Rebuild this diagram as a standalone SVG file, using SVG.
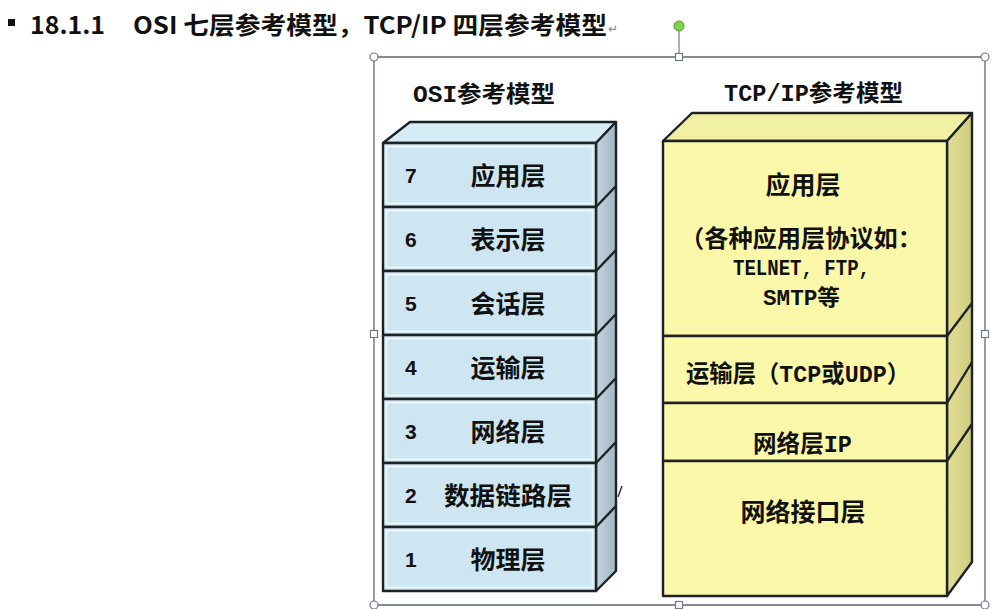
<svg xmlns="http://www.w3.org/2000/svg" width="993" height="609" viewBox="0 0 993 609">
<defs>
<linearGradient id="sideBlue" x1="0" y1="0" x2="1" y2="0">
<stop offset="0" stop-color="#c3d5df"/><stop offset="1" stop-color="#a3b6c1"/>
</linearGradient>
<linearGradient id="sideYellow" x1="0" y1="0" x2="1" y2="0">
<stop offset="0" stop-color="#e2df95"/><stop offset="1" stop-color="#cfcc7f"/>
</linearGradient>
<style>
.edge{stroke:#1c2226;stroke-width:2.4;stroke-linejoin:round}
.osi{fill:#cde6f2}
.osiIn{fill:none;stroke:#eef8fc;stroke-width:1.6}
.tcp{fill:#fbf8a9}
.cn{font-family:"Noto Sans CJK SC","Noto Sans CJK TC",sans-serif;font-weight:bold;fill:#111}
.mono{font-family:"Liberation Mono","Noto Sans CJK SC",monospace;font-weight:bold;fill:#111}
.num{font-family:"Liberation Sans",sans-serif;font-weight:bold;font-size:21px;fill:#111}
.lbl{font-size:25px;text-anchor:middle}
.frame{stroke:#5c6670;stroke-width:1.3;fill:none}
.hdl{fill:#ffffff;stroke:#6f7a86;stroke-width:1.2}
</style>
</defs>
<rect width="993" height="609" fill="#ffffff"/>

<g id="header">
<rect x="8" y="19" width="7" height="7" fill="#111"/>
<text x="30" y="34" class="cn" font-size="24" textLength="75" lengthAdjust="spacingAndGlyphs">18.1.1</text>
<text x="133" y="34" class="cn" font-size="24" textLength="474" lengthAdjust="spacingAndGlyphs">OSI 七层参考模型，TCP/IP 四层参考模型</text>
<text x="608" y="33" font-family="Liberation Sans,sans-serif" font-size="12" fill="#888">↵</text>
</g>

<g id="frame">
<line class="frame" x1="374" y1="57" x2="985" y2="57"/>
<line class="frame" x1="374" y1="57" x2="374" y2="605"/>
<line class="frame" x1="985" y1="57" x2="985" y2="605"/>
<line class="frame" x1="374" y1="605" x2="985" y2="605"/>
<line x1="679" y1="31" x2="679" y2="54" stroke="#7b8590" stroke-width="1.3"/>
<circle cx="679" cy="26" r="5" fill="#7fd24c" stroke="#5a9a3a" stroke-width="1"/>
<circle class="hdl" cx="374" cy="57" r="4"/>
<circle class="hdl" cx="985" cy="57" r="4"/>
<circle class="hdl" cx="374" cy="605" r="4"/>
<circle class="hdl" cx="985" cy="605" r="4"/>
<rect class="hdl" x="675.5" y="53.5" width="7" height="7"/>
<rect class="hdl" x="370.5" y="330.5" width="7" height="7"/>
<rect class="hdl" x="981.5" y="330.5" width="7" height="7"/>
<rect class="hdl" x="675.5" y="601.5" width="7" height="7"/>
</g>

<g id="osi-title"><text x="413" y="102" class="mono" font-size="23" textLength="142" lengthAdjust="spacingAndGlyphs">OSI参考模型</text></g>
<g id="tcpip-title"><text x="724" y="101" class="mono" font-size="23" textLength="179" lengthAdjust="spacingAndGlyphs">TCP/IP参考模型</text></g>

<g id="osi-stack">
<polygon class="edge" fill="#d6ecf6" points="383,143 410,122 616,122 596,143"/>
<polygon class="edge" fill="url(#sideBlue)" points="596,143 616,122 616,571 596,591"/>
<g fill="none" class="edge">
<line x1="596" y1="207" x2="616" y2="186"/>
<line x1="596" y1="271" x2="616" y2="250"/>
<line x1="596" y1="335" x2="616" y2="314"/>
<line x1="596" y1="399" x2="616" y2="378"/>
<line x1="596" y1="463" x2="616" y2="442"/>
<line x1="596" y1="527" x2="616" y2="506"/>
</g>
<line x1="618" y1="497" x2="622" y2="486" stroke="#333" stroke-width="1.5"/>
</g>

<g id="osi-7"><rect class="osi edge" x="383" y="143" width="213" height="64"/><rect class="osiIn" x="386.5" y="146.5" width="206" height="57"/><text class="num" x="405" y="183">7</text><text class="cn lbl" x="508" y="185">应用层</text></g>
<g id="osi-6"><rect class="osi edge" x="383" y="207" width="213" height="64"/><rect class="osiIn" x="386.5" y="210.5" width="206" height="57"/><text class="num" x="405" y="247">6</text><text class="cn lbl" x="508" y="249">表示层</text></g>
<g id="osi-5"><rect class="osi edge" x="383" y="271" width="213" height="64"/><rect class="osiIn" x="386.5" y="274.5" width="206" height="57"/><text class="num" x="405" y="311">5</text><text class="cn lbl" x="508" y="313">会话层</text></g>
<g id="osi-4"><rect class="osi edge" x="383" y="335" width="213" height="64"/><rect class="osiIn" x="386.5" y="338.5" width="206" height="57"/><text class="num" x="405" y="375">4</text><text class="cn lbl" x="508" y="377">运输层</text></g>
<g id="osi-3"><rect class="osi edge" x="383" y="399" width="213" height="64"/><rect class="osiIn" x="386.5" y="402.5" width="206" height="57"/><text class="num" x="405" y="439">3</text><text class="cn lbl" x="508" y="441">网络层</text></g>
<g id="osi-2"><rect class="osi edge" x="383" y="463" width="213" height="64"/><rect class="osiIn" x="386.5" y="466.5" width="206" height="57"/><text class="num" x="405" y="503">2</text><text class="cn lbl" x="508" y="505" textLength="128" lengthAdjust="spacingAndGlyphs">数据链路层</text></g>
<g id="osi-1"><rect class="osi edge" x="383" y="527" width="213" height="64"/><rect class="osiIn" x="386.5" y="530.5" width="206" height="57"/><text class="num" x="405" y="567">1</text><text class="cn lbl" x="508" y="569">物理层</text></g>

<g id="tcpip-stack">
<polygon class="edge" fill="#f2f0a2" points="663,141 692,113 972,113 947,141"/>
<polygon class="edge" fill="url(#sideYellow)" points="947,141 972,113 972,562 947,596"/>
<g fill="none" class="edge">
<line x1="947" y1="336" x2="972" y2="303"/>
<line x1="947" y1="403" x2="972" y2="362"/>
<line x1="947" y1="461" x2="972" y2="424"/>
</g>
</g>

<g id="tcpip-app"><rect class="tcp edge" x="663" y="141" width="284" height="195"/>
<text class="cn lbl" x="803" y="194">应用层</text>
<text class="cn" x="680" y="247" font-size="24" textLength="242" lengthAdjust="spacingAndGlyphs">（各种应用层协议如：</text>
<text class="mono" x="733" y="275" font-size="22" textLength="137" lengthAdjust="spacingAndGlyphs">TELNET, FTP,</text>
<text class="mono" x="763" y="305" font-size="22" textLength="77" lengthAdjust="spacingAndGlyphs">SMTP等</text>
</g>
<g id="tcpip-transport"><rect class="tcp edge" x="663" y="336" width="284" height="67"/><text class="mono" x="686" y="382" font-size="24" textLength="224" lengthAdjust="spacingAndGlyphs">运输层（TCP或UDP）</text></g>
<g id="tcpip-network"><rect class="tcp edge" x="663" y="403" width="284" height="58"/><text class="mono" x="753" y="452" font-size="24" textLength="99" lengthAdjust="spacingAndGlyphs">网络层IP</text></g>
<g id="tcpip-link"><rect class="tcp edge" x="663" y="461" width="284" height="135"/><text class="cn lbl" x="803" y="521">网络接口层</text></g>

<g id="connectors"/>
</svg>
